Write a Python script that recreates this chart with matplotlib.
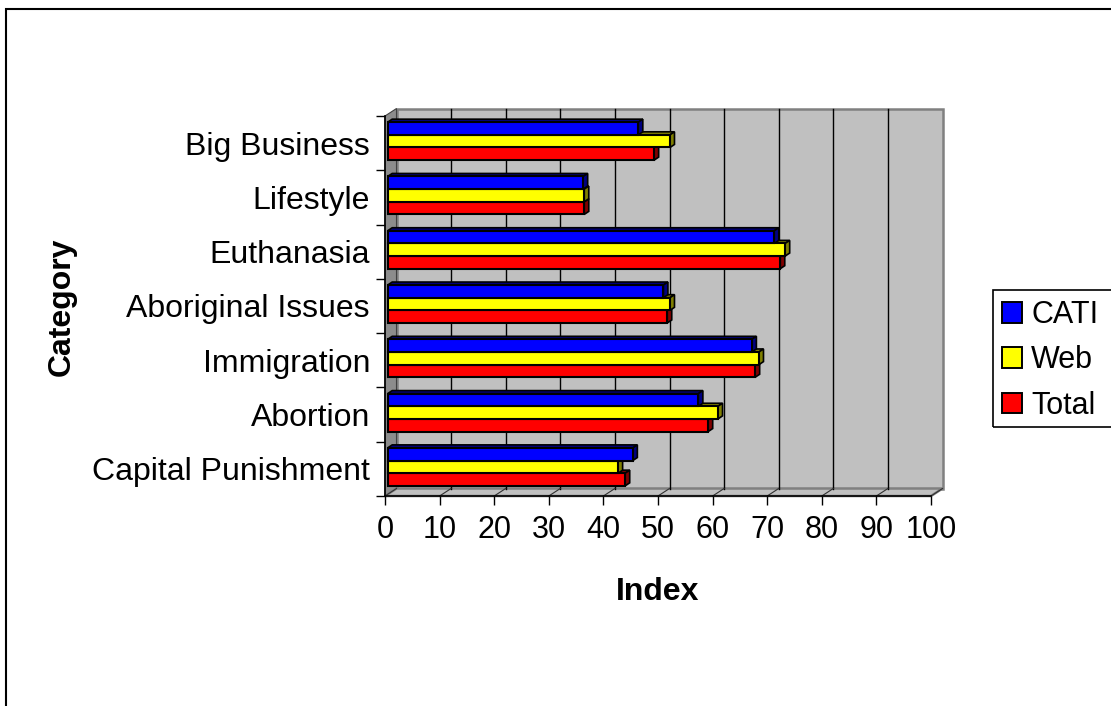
import matplotlib
matplotlib.use('Agg')
import matplotlib.pyplot as plt
import matplotlib.transforms as mtransforms
from matplotlib.patches import Polygon, Rectangle, Patch
import numpy as np

###############################
# data
###############################
categories = ['Capital Punishment', 'Abortion', 'Immigration', 'Aboriginal Issues',
              'Euthanasia', 'Lifestyle', 'Big Business']
cati = [44.9, 56.9, 66.7, 50.5, 70.8, 35.8, 45.9]
web = [42.2, 60.5, 68.0, 51.7, 72.8, 36.0, 51.7]
total = [43.5, 58.7, 67.3, 51.2, 71.9, 36.0, 48.8]
series_names = ['CATI', 'Web', 'Total']
xticks = list(range(0, 101, 10))

face_colours = ['#0000ff', '#ffff00', '#ff0000']
side_colours = ['#000080', '#808000', '#800000']

plt.rcParams['font.family'] = ['Liberation Sans', 'DejaVu Sans']

W, H = 1111, 706
fig = plt.figure(figsize=(W / 100, H / 100), dpi=100)
ax = fig.add_axes([385 / W, 1 - 496 / H, 546 / W, 380 / H])
ncat = len(categories)
ax.set_xlim(0, 100)
ax.set_ylim(0, ncat)
ax.set_facecolor('none')

# pixel sizes of one data unit, used for the fake 3d depth
px_x = 546 / 100
px_y = 380 / ncat
wdx, wdy = 11.5 / px_x, 7.5 / px_y

###############################
# walls and floor
###############################
ax.add_patch(Rectangle((wdx, wdy), 100, ncat, fc='#c0c0c0', ec='#808080', lw=1.8,
                       clip_on=False, zorder=0))
ax.add_patch(Polygon([(0, 0), (wdx, wdy), (wdx, ncat + wdy), (0, ncat)], closed=True,
                     fc='#8c8c8c', ec='#404040', lw=0.8, clip_on=False, zorder=0.5))
ax.add_patch(Polygon([(0, 0), (100, 0), (100 + wdx, wdy), (wdx, wdy)], closed=True,
                     fc='#c0c0c0', ec='#808080', lw=1.8, clip_on=False, zorder=0.5))
for v in xticks[1:-1]:
    ax.plot([v + wdx, v + wdx], [wdy, ncat + wdy], color='black', lw=1.0, zorder=1,
            clip_on=False)
for v in xticks:
    ax.plot([v, v + wdx], [0, wdy], color='#303030', lw=0.8, zorder=1, clip_on=False)

###############################
# bars
###############################
bar_trans = ax.transData + mtransforms.ScaledTranslation(2.7 / 100, 2 / 100,
                                                         fig.dpi_scale_trans)
bdx, bdy = 4.5 / px_x, 3 / px_y
bar_h = 0.233
ypos = np.arange(ncat) + 0.5
offsets = [bar_h, 0, -bar_h]
series = [cati, web, total]

for k in [2, 1, 0]:
    yk = ypos + offsets[k]
    for v, yc in zip(series[k], yk):
        top = yc + bar_h / 2
        bot = yc - bar_h / 2
        ax.add_patch(Polygon([(0, top), (bdx, top + bdy), (v + bdx, top + bdy), (v, top)],
                             closed=True, fc=side_colours[k], ec='black', lw=1.2,
                             transform=bar_trans, clip_on=False, zorder=3))
        ax.add_patch(Polygon([(v, bot), (v + bdx, bot + bdy), (v + bdx, top + bdy), (v, top)],
                             closed=True, fc=side_colours[k], ec='black', lw=1.2,
                             transform=bar_trans, clip_on=False, zorder=3))
    ax.barh(yk, series[k], height=bar_h, color=face_colours[k], edgecolor='black',
            linewidth=1.5, transform=bar_trans, clip_on=False, zorder=3)

###############################
# axes, ticks, labels
###############################
for s in ['top', 'right']:
    ax.spines[s].set_visible(False)
for s in ['left', 'bottom']:
    ax.spines[s].set_color('black')
    ax.spines[s].set_linewidth(1.2)
    ax.spines[s].set_zorder(2)

ax.set_xticks(xticks)
ax.set_xticklabels([str(v) for v in xticks])
ax.tick_params(axis='x', direction='out', length=6.5, width=1, labelsize=22, pad=7.5)
ax.set_yticks(range(ncat + 1))
ax.set_yticklabels([])
ax.tick_params(axis='y', which='major', direction='out', length=6.5, width=1)
ax.set_yticks(ypos, minor=True)
ax.set_yticklabels(categories, minor=True)
ax.tick_params(axis='y', which='minor', length=0, labelsize=23, pad=10.8)

fig.text(62 / W, 1 - 307 / H, 'Category', rotation=90, ha='center', va='center',
         fontsize=23, fontweight='bold')
fig.text(658 / W, 1 - 592 / H, 'Index', ha='center', va='center',
         fontsize=23, fontweight='bold')

###############################
# legend and outer frame
###############################
handles = [Patch(fc=c, ec='black', lw=1.4) for c in face_colours]
fig.legend(handles, series_names, loc='upper left', bbox_to_anchor=(1002 / W, 1 - 300 / H),
           frameon=False, fontsize=22, borderpad=0, borderaxespad=0,
           handlelength=0.66, handleheight=0.66, handletextpad=0.3, labelspacing=0.5)
fig.patches.append(Rectangle((993 / W, 1 - 427 / H), 140 / W, 137 / H, fill=False,
                             ec='black', lw=1.2, transform=fig.transFigure, figure=fig))
fig.patches.append(Rectangle((6 / W, -0.05), 1.1, 1.05 - 9 / H, fill=False,
                             ec='black', lw=1.5, transform=fig.transFigure, figure=fig))

fig.savefig('out.png', dpi=100)
